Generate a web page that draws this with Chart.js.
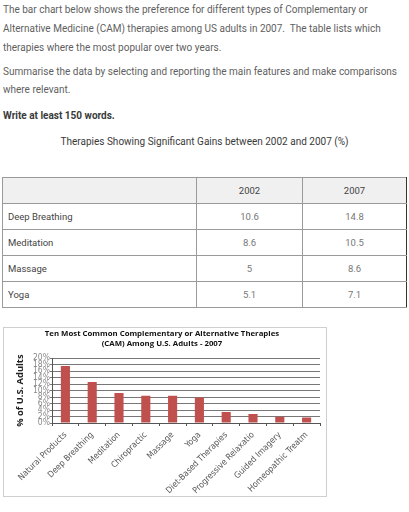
<!DOCTYPE html>
<html>
<head>
<meta charset="utf-8">
<script src="https://cdn.jsdelivr.net/npm/chart.js@4.4.1/dist/chart.umd.min.js"></script>
<style>
  body { margin: 0; width: 409px; height: 512px; background: #fff; position: relative; overflow: hidden; font-family: Roboto, sans-serif; }
  .txt { position: absolute; left: 3px; font-size: 10px; color: #5f5f5f; white-space: nowrap; }
  #p1 { top: 0; line-height: 19px; }
  #p2 { top: 63px; line-height: 17.5px; }
  #p3 { top: 107px; line-height: 18px; font-weight: bold; color: #3a3a3a; }
  #tt { top: 133px; left: 0; width: 409px; text-align: center; line-height: 18px; color: #3a3a3a; }
  table { position: absolute; left: 2px; top: 177px; border-collapse: collapse; font-size: 9.5px; }
  td { height: 25px; padding: 0 0 0 5px; border: 1px solid #9a9a9a; color: #444; }
  td.n { text-align: center; padding: 0; color: #777; border-left: 1px solid #333; }
  tr.h td { background: #f0f0f0; color: #444; }
  td.last { border-right: 1px solid #333; }
  #box { position: absolute; left: 3px; top: 327px; width: 324px; height: 170px; border: 1px solid #cfcfcf; box-sizing: border-box; }
  #chart { position: absolute; left: 0; top: 0; }
</style>
</head>
<body>
<div class="txt" id="p1">The bar chart below shows the preference for different types of Complementary or<br>Alternative Medicine (CAM) therapies among US adults in 2007.&nbsp; The table lists which<br>therapies where the most popular over two years.</div>
<div class="txt" id="p2">Summarise the data by selecting and reporting the main features and make comparisons<br>where relevant.</div>
<div class="txt" id="p3">Write at least 150 words.</div>
<div class="txt" id="tt">Therapies Showing Significant Gains between 2002 and 2007 (%)</div>
<table id="tbl"></table>
<div id="box"><canvas id="chart" width="322" height="168"></canvas></div>
<script>
// table data
const tableRows = ['Deep Breathing', 'Meditation', 'Massage', 'Yoga'];
const tableYears = ['2002', '2007'];
const values2002 = ['10.6', '8.6', '5', '5.1'];
const values2007 = ['14.8', '10.5', '8.6', '7.1'];

// chart data
const therapies = ['Natural Products', 'Deep Breathing', 'Meditation', 'Chiropractic', 'Massage', 'Yoga',
  'Diet-Based Therapies', 'Progressive Relaxatio', 'Guided Imagery', 'Homeopathic Treatm'];
const adultsPct = [17.6, 12.7, 9.3, 8.4, 8.4, 7.9, 3.4, 2.8, 1.9, 1.7];
const chartTitle = ['Ten Most Common Complementary or Alternative Therapies', '(CAM) Among U.S. Adults - 2007'];
const yTitle = '% of U.S. Adults';

const tbl = document.getElementById('tbl');
let html = '<tr class="h"><td style="width:188px"></td><td class="n" style="width:105px">' + tableYears[0] +
  '</td><td class="n last" style="width:103px">' + tableYears[1] + '</td></tr>';
tableRows.forEach((name, i) => {
  html += '<tr><td>' + name + '</td><td class="n">' + values2002[i] + '</td><td class="n last">' + values2007[i] + '</td></tr>';
});
tbl.innerHTML = html;

const smallFont = '"Liberation Sans Narrow", "DejaVu Sans Condensed", sans-serif';

const ctx = document.getElementById('chart').getContext('2d');
const chart = new Chart(ctx, {
  type: 'bar',
  data: {
    labels: therapies,
    datasets: [{ data: adultsPct, backgroundColor: '#c0504d', barPercentage: 0.34, categoryPercentage: 1 }],
  },
  options: {
    responsive: false,
    animation: false,
    devicePixelRatio: 1,
    layout: { padding: { left: 0, right: 6, top: 0, bottom: 0 } },
    plugins: {
      legend: { display: false },
      tooltip: { enabled: false },
      title: {
        display: true,
        text: chartTitle,
        color: '#111',
        font: { family: '"Open Sans", sans-serif', size: 7.8, weight: 'bold', lineHeight: 1.3 },
        padding: { top: 1, bottom: 9 },
      },
    },
    scales: {
      x: {
        grid: { display: true, drawOnChartArea: false, offset: true, color: '#555', tickLength: 3 },
        border: { color: '#555' },
        ticks: {
          autoSkip: false, minRotation: 45, maxRotation: 45, padding: 4, color: '#555',
          font: { family: smallFont, size: 8.6 },
        },
        afterFit: (scale) => { scale.height = 73; },
      },
      y: {
        min: 0,
        max: 20,
        grid: { color: '#777', tickLength: 2 },
        border: { color: '#555' },
        ticks: {
          stepSize: 2, autoSkip: false, padding: 0, color: '#888',
          font: { family: smallFont, size: 8.5 },
          callback: (v) => v + '%',
        },
        title: {
          display: true,
          text: yTitle,
          color: '#222',
          font: { family: '"Open Sans", sans-serif', size: 9.3, weight: 'bold' },
          padding: { top: 11, bottom: 0 },
        },
        afterFit: (scale) => { scale.width = 48; },
      },
    },
  },
});
</script>
</body>
</html>
